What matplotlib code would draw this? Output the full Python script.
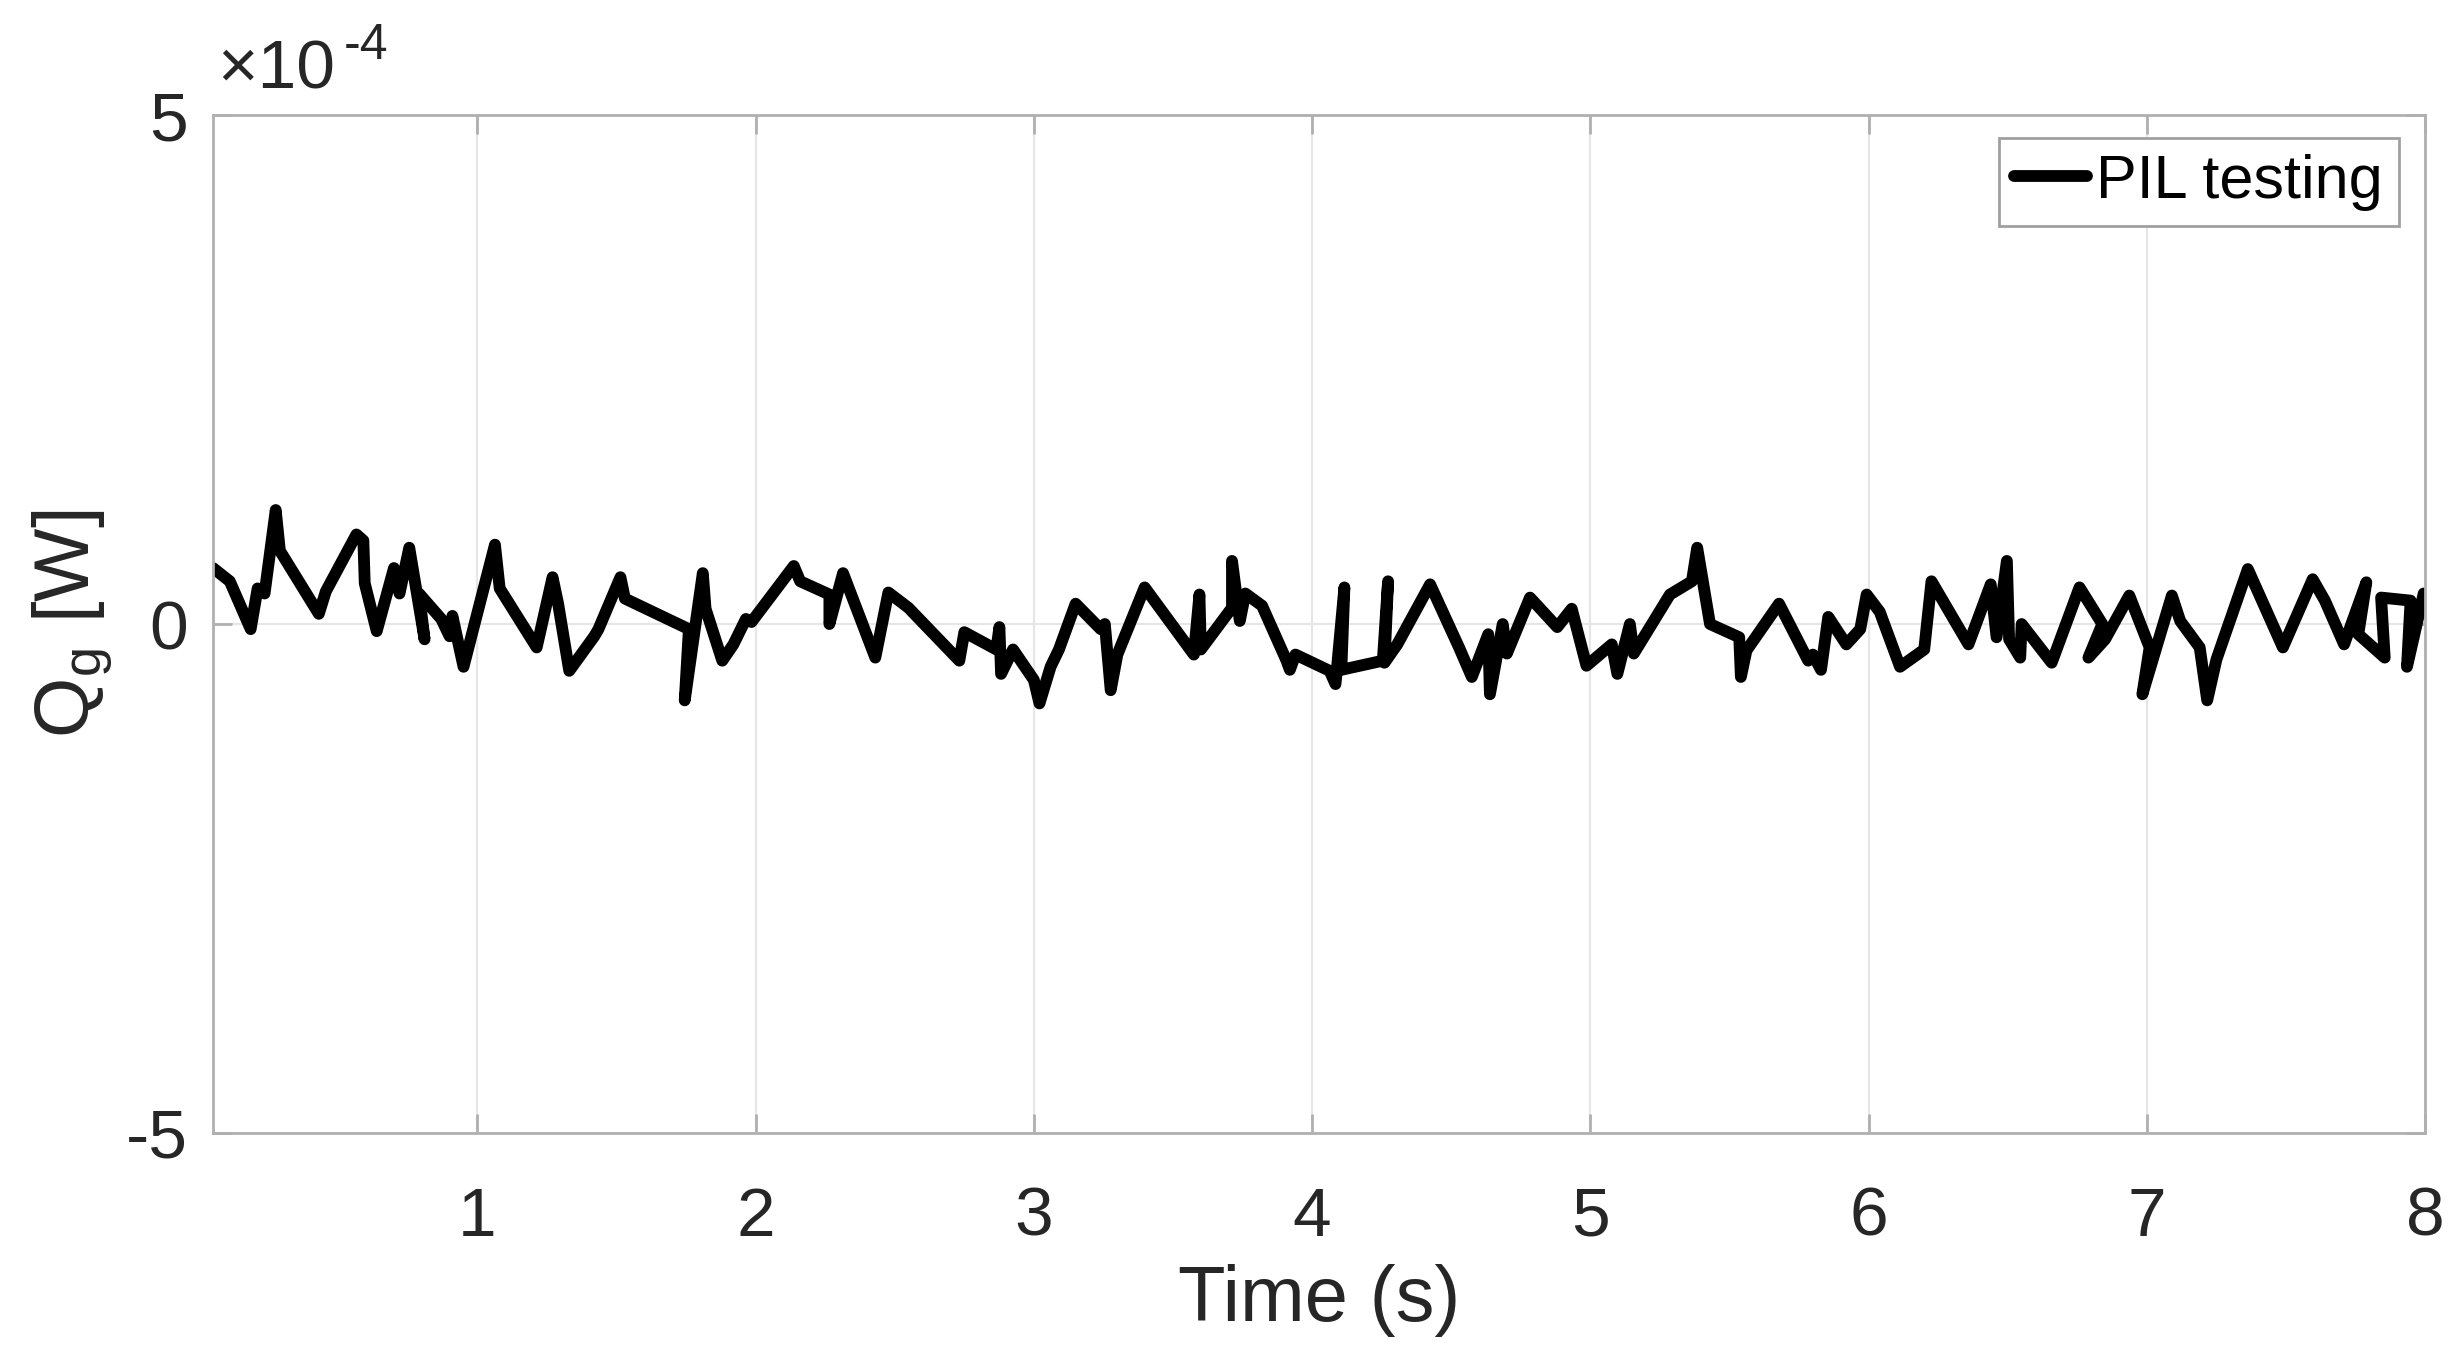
import matplotlib.pyplot as plt

plt.rcParams['font.family'] = ['Liberation Sans', 'DejaVu Sans']
plt.rcParams['axes.unicode_minus'] = False

# time stamps (s) and Q_g values in units of 1e-4 W
t = [0.05, 0.11, 0.185, 0.21, 0.235, 0.275, 0.29, 0.43, 0.455, 0.565,
     0.59, 0.595, 0.638, 0.70, 0.72, 0.755, 0.81, 0.79, 0.87, 0.90,
     0.91, 0.95, 1.063, 1.08, 1.213, 1.27, 1.29, 1.33, 1.42, 1.435,
     1.514, 1.53, 1.76, 1.745, 1.81, 1.82, 1.88, 1.92, 1.965, 1.985,
     2.137, 2.16, 2.265, 2.265, 2.314, 2.43, 2.477, 2.549, 2.732, 2.75,
     2.865, 2.876, 2.882, 2.925, 3.0, 3.02, 3.06, 3.09, 3.15, 3.24,
     3.255, 3.276, 3.30, 3.398, 3.575, 3.595, 3.60, 3.712, 3.712, 3.74,
     3.76, 3.82, 3.908, 3.92, 3.94, 4.063, 4.084, 4.116, 4.105, 4.254,
     4.273, 4.26, 4.306, 4.424, 4.528, 4.574, 4.633, 4.639, 4.685, 4.70,
     4.783, 4.881, 4.933, 4.986, 5.077, 5.097, 5.142, 5.156, 5.286, 5.365,
     5.384, 5.43, 5.535, 5.541, 5.561, 5.678, 5.783, 5.80, 5.829, 5.855,
     5.92, 5.97, 5.993, 6.04, 6.113, 6.2, 6.226, 6.359, 6.439, 6.46,
     6.497, 6.505, 6.545, 6.55, 6.658, 6.758, 6.84, 6.79, 6.85, 6.937,
     7.01, 6.984, 7.09, 7.12, 7.19, 7.217, 7.25, 7.363, 7.489, 7.596,
     7.64, 7.709, 7.789, 7.76, 7.855, 7.842, 7.948, 7.935, 7.995]
qg = [0.55, 0.42, -0.05, 0.35, 0.30, 1.12, 0.72, 0.10, 0.32, 0.88,
      0.82, 0.40, -0.07, 0.55, 0.30, 0.75, -0.15, 0.30, 0.05, -0.12,
      0.08, -0.42, 0.78, 0.35, -0.23, 0.46, 0.20, -0.46, -0.12, -0.05,
      0.46, 0.25, -0.05, -0.75, 0.50, 0.15, -0.36, -0.20, 0.05, 0.02,
      0.57, 0.42, 0.29, 0.0, 0.50, -0.33, 0.31, 0.16, -0.36, -0.08,
      -0.25, -0.03, -0.49, -0.25, -0.55, -0.78, -0.42, -0.25, 0.20, -0.05,
      0.0, -0.65, -0.30, 0.36, -0.30, 0.29, -0.25, 0.16, 0.62, 0.03,
      0.30, 0.18, -0.36, -0.45, -0.30, -0.46, -0.59, 0.36, -0.45, -0.36,
      0.42, -0.38, -0.20, 0.39, -0.23, -0.52, -0.10, -0.69, 0.0, -0.29,
      0.26, -0.03, 0.15, -0.41, -0.20, -0.49, 0.0, -0.29, 0.29, 0.42,
      0.75, 0.0, -0.13, -0.52, -0.26, 0.20, -0.36, -0.30, -0.45, 0.07,
      -0.20, -0.05, 0.29, 0.12, -0.42, -0.25, 0.42, -0.20, 0.39, -0.13,
      0.62, -0.15, -0.33, 0.0, -0.38, 0.36, 0.0, -0.33, -0.15, 0.28,
      -0.23, -0.69, 0.28, 0.03, -0.23, -0.75, -0.35, 0.54, -0.23, 0.44,
      0.23, -0.20, 0.41, -0.10, -0.33, 0.26, 0.23, -0.42, 0.30]

xticks = [1, 2, 3, 4, 5, 6, 7, 8]
yticks = [-5, 0, 5]

fig = plt.figure(figsize=(24.58, 13.70), dpi=100)
ax = fig.add_axes([0.0867, 0.173, 0.8999, 0.743])

ax.plot(t, qg, color='black', lw=8.5, label='PIL testing',
        solid_joinstyle='round', solid_capstyle='round')

ax.set_xlim(0.05, 8)
ax.set_ylim(-5, 5)
ax.set_xticks(xticks)
ax.set_yticks(yticks)
ax.grid(True, color='#e6e6e6', lw=1.5)
ax.set_axisbelow(True)

for side in ax.spines.values():
    side.set_color('#b0b0b0')
    side.set_linewidth(2)
ax.tick_params(direction='in', length=14, width=2, color='#b0b0b0',
               labelcolor='#262626', labelsize=50, top=True, right=True)
ax.tick_params(axis='x', pad=38)
ax.tick_params(axis='y', pad=18)

# exponent label, MATLAB style with a plain hyphen
ax.text(0.002, 1.012, '\u00d710', transform=ax.transAxes,
        fontsize=50, color='#262626', ha='left', va='bottom')
ax.text(0.059, 1.045, '-4', transform=ax.transAxes,
        fontsize=36, color='#262626', ha='left', va='bottom')

ax.set_xlabel('Time (s)', fontsize=56, color='#262626', labelpad=10)
ax.set_ylabel(r'Q$_{\mathregular{g}}$ [W]', fontsize=56, color='#262626', labelpad=8)

leg = ax.legend(loc='upper right', fontsize=44, handlelength=1.2, handletextpad=0.15,
                borderpad=0.25, borderaxespad=0, fancybox=False, framealpha=1,
                bbox_to_anchor=(0.988, 0.977))
leg.get_frame().set_edgecolor('#a0a0a0')
leg.get_frame().set_linewidth(2)

fig.savefig('out.png', dpi=100)
